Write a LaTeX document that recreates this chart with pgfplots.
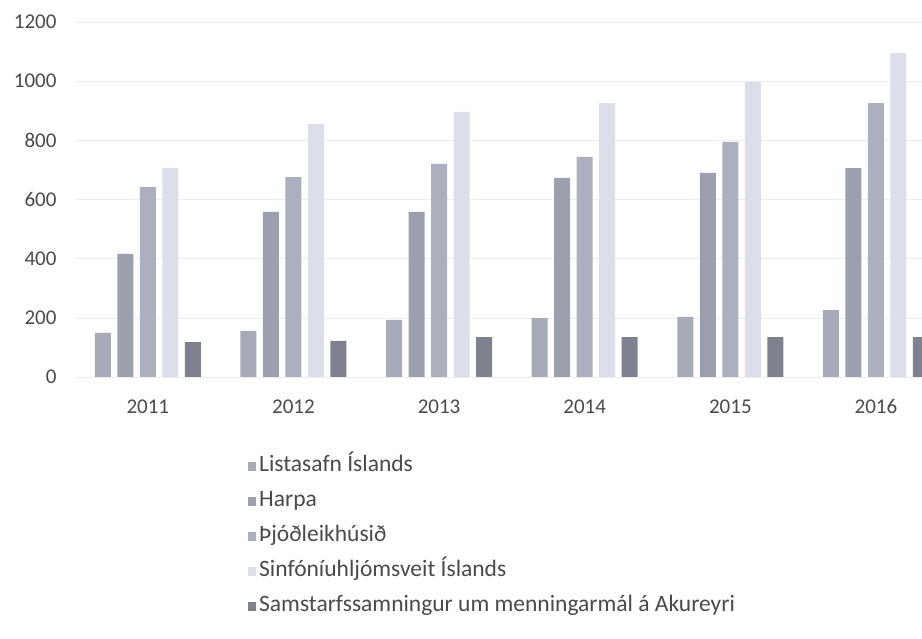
\documentclass[border=0pt]{standalone}
\usepackage{pgfplots}
\pgfplotsset{compat=1.18}
\usepackage{fontspec}
\setmainfont{Carlito}
\definecolor{cA}{HTML}{A7AAB8}
\definecolor{cB}{HTML}{9C9FAE}
\definecolor{cC}{HTML}{ACAFBD}
\definecolor{cD}{HTML}{DCDEEA}
\definecolor{cE}{HTML}{7F828E}
\definecolor{txt}{HTML}{4A4A4A}
\begin{document}
\begin{tikzpicture}
\begin{axis}[
  at={(75pt,262pt)}, anchor=south west,
  scale only axis, width=847pt, height=355pt,
  xmin=-0.5, xmax=5.316, ymin=0, ymax=1200,
  ybar=6.5pt, bar width=16pt,
  xtick={0,1,2,3,4,5},
  xticklabels={2011,2012,2013,2014,2015,2016},
  ytick={0,200,400,600,800,1000,1200},
  /pgf/number format/assume math mode=true,
  /pgf/number format/1000 sep={},
  axis line style={draw=none},
  tick style={draw=none},
  ymajorgrids, grid style={color=black!7, line width=0.6pt},
  ticklabel style={font=\fontsize{21}{22}\selectfont, text=txt},
  yticklabel style={anchor=east, xshift=-15pt},
  xticklabel style={anchor=north, yshift=-15pt},
  legend image code/.code={\fill[#1] (0pt,-4.5pt) rectangle (8pt,4.5pt);},
  legend style={at={(0.2007,-0.21)}, anchor=north west, draw=none, fill=none,
    font=\fontsize{23.5}{26}\selectfont, text=txt,
    nodes={text height=16pt, text depth=5pt},
    /tikz/row sep=10pt,
    /tikz/every odd column/.style={column sep=1pt}},
  legend cell align=left,
  legend columns=1,
]
\addplot[fill=cA, draw=none] coordinates {(0,149) (1,156) (2,193) (3,199) (4,203) (5,226)};
\addplot[fill=cB, draw=none] coordinates {(0,416) (1,558) (2,558) (3,673) (4,690) (5,706)};
\addplot[fill=cC, draw=none] coordinates {(0,642) (1,676) (2,720) (3,744) (4,795) (5,926)};
\addplot[fill=cD, draw=none] coordinates {(0,707) (1,855) (2,896) (3,926) (4,997) (5,1095)};
\addplot[fill=cE, draw=none] coordinates {(0,118) (1,122) (2,135) (3,135) (4,135) (5,135)};
\legend{Listasafn Íslands, Harpa, Þjóðleikhúsið, Sinfóníuhljómsveit Íslands, Samstarfssamningur um menningarmál á Akureyri}
\end{axis}
\pgfresetboundingbox
\path[use as bounding box] (0,0) rectangle (922pt,639pt);
\end{tikzpicture}
\end{document}
